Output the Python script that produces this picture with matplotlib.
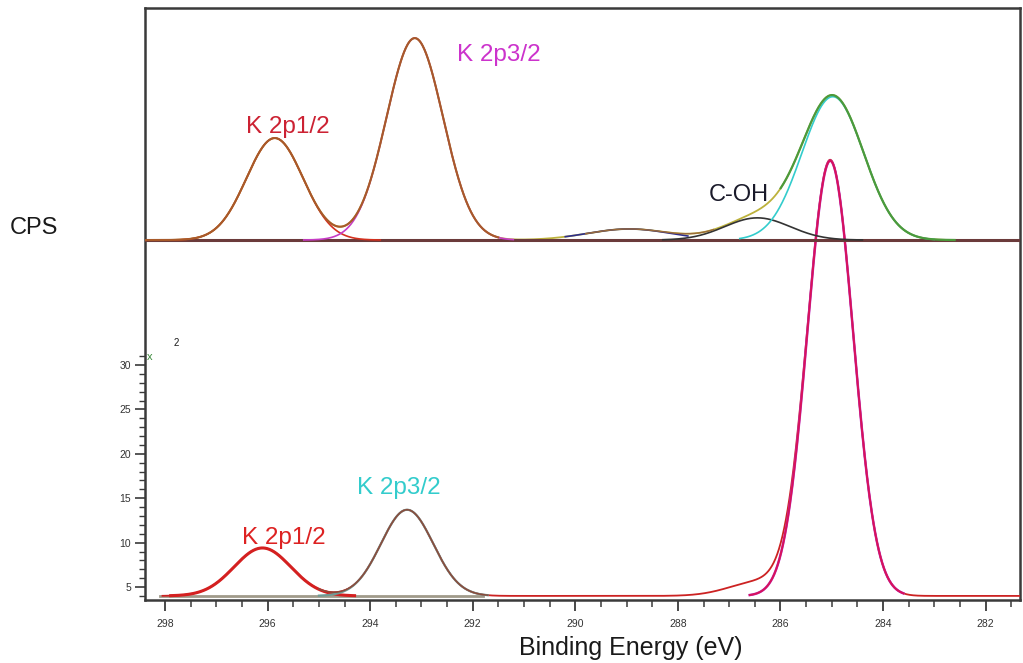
import numpy as np
import matplotlib
matplotlib.use("Agg")
import matplotlib.pyplot as plt
from matplotlib.ticker import FixedLocator

plt.rcParams['font.family'] = ['Liberation Sans', 'DejaVu Sans']

W, H = 1023, 663

# ---------------- data ----------------
x_ticks = [298, 296, 294, 292, 290, 288, 286, 284, 282]
x_tick_labels = ['298', '296', '294', '292', '290', '288', '286', '284', '282']
y_ticks = [5, 10, 15, 20, 25, 30]
y_tick_labels = ['5', '10', '15', '20', '25', '30']

# upper spectrum: fitted components (centre eV, height a.u., FWHM eV)
top_names = ['K 2p1/2', 'K 2p3/2', 'O-C=O', 'C-OH', 'C-C']
top_centers = [295.86, 293.13, 288.95, 286.45, 284.98]
top_heights = [50.5, 100.0, 5.5, 11.0, 71.0]
top_fwhm = [1.30, 1.30, 1.90, 1.50, 1.42]

# lower spectrum: fitted components (centre eV, height CPS above background, FWHM eV)
bot_names = ['K 2p1/2', 'K 2p3/2', 'C-C']
bot_centers = [296.10, 293.28, 285.03]
bot_heights = [5.4, 9.7, 49.0]
bot_fwhm = [1.30, 1.20, 1.05]
bot_background = 4.0
# extra shoulder seen only in the measured lower curve
bot_shoulder_center = 286.40
bot_shoulder_height = 1.6
bot_shoulder_fwhm = 1.40


def peak(e, c, h, f):
    s = f / 2.3548
    return h * np.exp(-0.5 * ((e - c) / s) ** 2)


# ---------------- figure ----------------
fig = plt.figure(figsize=(W / 100, H / 100), dpi=100)
rect = [145 / W, 1 - 600 / H, 875 / W, 592 / H]
ax = fig.add_axes(rect)
XMIN, XMAX = 298.39, 281.33
ax.set_xlim(XMIN, XMAX)
ax.set_ylim(3.54, 70.2)

axT = fig.add_axes(rect)
axT.set_xlim(XMIN, XMAX)
axT.set_ylim(-178.2, 114.9)
axT.axis('off')
axT.patch.set_alpha(0)

e = np.linspace(XMIN, XMAX, 1500)

# ---- upper spectrum ----
top_comp = [peak(e, c, h, f) for c, h, f in zip(top_centers, top_heights, top_fwhm)]
top_total = np.sum(top_comp, axis=0)

axT.plot(e, top_total, color='#BDB23C', lw=1.3, zorder=2)
axT.plot([XMIN, XMAX], [0, 0], color='#6B3B3B', lw=2.2, zorder=3)

windows_top = [(298.2, 293.8), (295.3, 291.2), (290.2, 287.8), (288.3, 284.4), (286.8, 283.0)]
colors_top = ['#D4301E', '#C63CC6', '#2E2E8C', '#333333', '#33CCCC']
for comp, (a, b), col in zip(top_comp, windows_top, colors_top):
    m = (e <= a) & (e >= b)
    axT.plot(e[m], comp[m], color=col, lw=1.2, zorder=4)

m = e >= 291.5
axT.plot(e[m], top_total[m], color='#A85A2A', lw=1.5, zorder=5)
m = (e <= 289.8) & (e >= 287.3)
axT.plot(e[m], top_total[m], color='#9A6A3A', lw=1.0, zorder=5)
m = (e <= 286.0) & (e >= 282.6)
axT.plot(e[m], top_total[m], color='#4C9A3C', lw=1.6, zorder=5)

# ---- lower spectrum ----
bot_comp = [peak(e, c, h, f) for c, h, f in zip(bot_centers, bot_heights, bot_fwhm)]
shoulder = peak(e, bot_shoulder_center, bot_shoulder_height, bot_shoulder_fwhm)
bot_meas = bot_background + np.sum(bot_comp, axis=0) + shoulder

m = (e <= 298.1) & (e >= 291.8)
ax.plot(e[m], np.full(m.sum(), bot_background), color='#A09A8A', lw=2.0, zorder=2)
m = e <= 298.05
ax.plot(e[m], bot_meas[m], color='#CC2222', lw=1.3, zorder=3)

m = (e <= 297.9) & (e >= 294.3)
ax.plot(e[m], bot_background + bot_comp[0][m], color='#D42020', lw=2.2, zorder=4)
m = (e <= 295.0) & (e >= 291.7)
ax.plot(e[m], bot_background + bot_comp[1][m], color='#6F9A94', lw=1.6, zorder=4)
ax.plot(e[m], bot_background + bot_comp[1][m] + bot_comp[0][m], color='#8C4A3A', lw=1.1, zorder=5)
m = (e <= 286.6) & (e >= 283.6)
ax.plot(e[m], bot_background + bot_comp[2][m], color='#B833C8', lw=1.8, zorder=4)
ax.plot(e[m], bot_background + bot_comp[2][m], color='#D8125A', lw=1.4, zorder=5)

# ---- axes styling ----
for sp in ax.spines.values():
    sp.set_linewidth(1.8)
    sp.set_color('#3A3A3A')
ax.xaxis.set_major_locator(FixedLocator(x_ticks))
ax.set_xticklabels(x_tick_labels)
ax.xaxis.set_minor_locator(FixedLocator(list(np.arange(298.0, 281.4, -0.5))))
ax.yaxis.set_major_locator(FixedLocator(y_ticks))
ax.set_yticklabels(y_tick_labels)
ax.yaxis.set_minor_locator(FixedLocator(list(range(4, 32))))
ax.tick_params(axis='x', which='major', direction='out', length=8, width=1.3,
               labelsize=7.5, pad=6, color='#3A3A3A', labelcolor='#333333')
ax.tick_params(axis='x', which='minor', direction='out', length=5, width=1.1, color='#3A3A3A')
ax.tick_params(axis='y', which='major', direction='out', length=7, width=1.2,
               labelsize=7.5, pad=3, color='#3A3A3A', labelcolor='#333333')
ax.tick_params(axis='y', which='minor', direction='out', length=4, width=1.0, color='#3A3A3A')


def ftext(x, y, s, **kw):
    fig.text(x / W, 1 - y / H, s, **kw)


ftext(10, 228, 'CPS', fontsize=17, ha='left', va='center', color='#1A1A1A')
ftext(631, 648, 'Binding Energy (eV)', fontsize=18, ha='center', va='center', color='#1A1A1A')
ftext(288, 127, 'K 2p1/2', fontsize=17.5, ha='center', va='center', color='#CC2233')
ftext(499, 55, 'K 2p3/2', fontsize=17.5, ha='center', va='center', color='#CC33CC')
ftext(739, 195, 'C-OH', fontsize=17, ha='center', va='center', color='#1A1A2A')
ftext(399, 488, 'K 2p3/2', fontsize=17.5, ha='center', va='center', color='#33CCCC')
ftext(284, 538, 'K 2p1/2', fontsize=17.5, ha='center', va='center', color='#DD2222')
ftext(150, 357, 'x', fontsize=8, ha='center', va='center', color='#3A8A3A')
ftext(176, 343, '2', fontsize=7, ha='center', va='center', color='#1A1A1A')

fig.savefig('out.png', dpi=100)
